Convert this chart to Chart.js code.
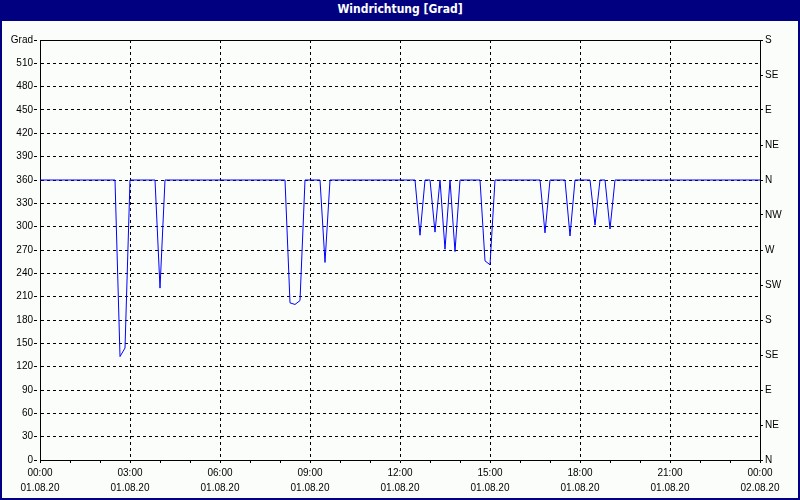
<!DOCTYPE html>
<html>
<head>
<meta charset="utf-8">
<script src="https://cdn.jsdelivr.net/npm/chart.js@4"></script>
<style>
html,body{margin:0;padding:0;background:#fff;}
#wrap{position:relative;width:800px;height:500px;overflow:hidden;background:#fbfdfb;}
#c{position:absolute;left:0;top:0;}
#title{position:absolute;left:0;top:0;width:800px;height:21px;background:#000080;color:#fff;
  font:bold 12px "Liberation Sans Narrow","DejaVu Sans Condensed","Liberation Sans",sans-serif;
  text-align:center;line-height:19px;}
#frame{position:absolute;left:0;top:0;width:796px;height:498px;border:2px solid #000080;border-top:none;pointer-events:none;}
</style>
</head>
<body>
<div id="wrap">
  <canvas id="c" width="800" height="500"></canvas>
  <div id="title">Windrichtung [Grad]</div>
  <div id="frame"></div>
</div>
<script>
// Time in minutes since 01.08.20 00:00, wind direction in degrees
const timeMin = [0,150,160,170,180,230,240,250,490,500,510,520,530,560,570,580,
  750,760,770,780,790,800,810,820,830,840,880,890,900,910,1000,1010,1020,
  1050,1060,1070,1100,1110,1120,1130,1140,1150,1440];
const windDeg = [360,360,133,144,360,360,221,360,360,202,200,205,360,360,254,360,
  360,289,360,360,293,360,271,360,268,360,360,256,251,360,360,292,360,
  360,288,360,360,302,360,360,297,360,360];

const xTickTimes = ['00:00','03:00','06:00','09:00','12:00','15:00','18:00','21:00','00:00'];
const xTickDates = ['01.08.20','01.08.20','01.08.20','01.08.20','01.08.20','01.08.20','01.08.20','01.08.20','02.08.20'];
const compassLabels = ['N','NE','E','SE','S','SW','W','NW','N','NE','E','SE','S'];
const yUnitLabel = 'Grad';

const points = timeMin.map((t, i) => ({x: t, y: windDeg[i]}));
const FONT = {family: '"Liberation Sans", Arial, sans-serif', size: 10, lineHeight: 1.5};

const framePlugin = {
  id: 'frameTop',
  afterDraw(chart) {
    const {ctx, chartArea: a} = chart;
    ctx.save();
    ctx.strokeStyle = '#000';
    ctx.lineWidth = 1;
    ctx.beginPath();
    ctx.moveTo(a.left, Math.round(a.top) + 0.5);
    ctx.lineTo(a.right + 1, Math.round(a.top) + 0.5);
    ctx.stroke();
    ctx.restore();
  }
};

new Chart(document.getElementById('c'), {
  type: 'line',
  data: {
    datasets: [{
      data: points,
      borderColor: '#0000ff',
      borderWidth: 1,
      pointRadius: 0,
      tension: 0,
      fill: false,
      xAxisID: 'x',
      yAxisID: 'y'
    }]
  },
  options: {
    responsive: false,
    animation: false,
    devicePixelRatio: 1,
    layout: {padding: {top: 40, left: 0, right: 0, bottom: 0}},
    plugins: {legend: {display: false}, tooltip: {enabled: false}, title: {display: false}},
    scales: {
      x: {
        type: 'linear', position: 'bottom', min: 0, max: 1440,
        afterFit(s) { s.height = 40; },
        ticks: {
          stepSize: 60, maxTicksLimit: 100, autoSkip: false, maxRotation: 0, minRotation: 0,
          padding: 3, color: '#000', font: FONT,
          callback(v) {
            if (v % 180 !== 0) return '';
            const i = v / 180;
            return [xTickTimes[i], xTickDates[i]];
          }
        },
        grid: {
          color: (c) => (c.tick && c.tick.value % 180 === 0) ? '#000' : 'rgba(0,0,0,0)',
          tickColor: '#000', tickLength: 3, lineWidth: 1
        },
        border: {display: true, color: '#000', width: 1, dash: [3, 3]}
      },
      y: {
        position: 'left', min: 0, max: 540,
        afterFit(s) { s.width = 40; },
        ticks: {
          stepSize: 30, maxTicksLimit: 100, padding: 1, color: '#000', font: FONT,
          callback(v) { return v === 540 ? yUnitLabel : String(v); }
        },
        grid: {color: '#000', tickColor: '#000', tickLength: 6, tickBorderDash: [3, 3], lineWidth: 1},
        border: {display: true, color: '#000', width: 1, dash: [3, 3]}
      },
      y2: {
        position: 'right', min: 0, max: 540,
        afterFit(s) { s.width = 40; },
        ticks: {
          stepSize: 45, maxTicksLimit: 100, padding: 2, color: '#000', font: FONT,
          callback(v) { return compassLabels[Math.round(v / 45)]; }
        },
        grid: {drawOnChartArea: false, tickColor: '#000', tickLength: 3},
        border: {display: true, color: '#000', width: 1}
      }
    }
  },
  plugins: [framePlugin]
});
</script>
</body>
</html>
